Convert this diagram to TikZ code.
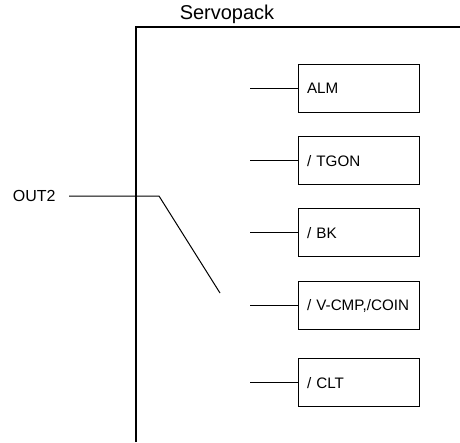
\documentclass[tikz,border=0pt]{standalone}
\usepackage{fontspec}
\setmainfont{Liberation Sans}
\usepackage{tikz}
\usetikzlibrary{positioning}

\begin{document}
\begin{tikzpicture}[
    x=1pt, y=-1pt,
    line width=1.2pt,
    sig/.style={draw, rectangle, anchor=north west, minimum width=121pt, minimum height=48pt,
                text width=104pt, inner xsep=8.5pt, align=left, font=\fontsize{15.2}{17}\selectfont},
    wire/.style={line width=1pt}
]
    \useasboundingbox (0,0) rectangle (460,442);

    % Servopack frame
    \coordinate (fbot) at (136,442);
    \coordinate (ftop) at (136,27);
    \coordinate (fright) at (460,27);
    \draw (fbot) -- (ftop) -- (fright);
    \node[font=\fontsize{20}{22}\selectfont] (title) at (227,14) {Servopack};

    % output signals
    \node[sig] (alm)  at (298,64)  {ALM};
    \node[sig] (tgon) at (298,136) {/ TGON};
    \node[sig] (bk)   at (298,208) {/ BK};
    \node[sig] (vcmp) at (298,281) {/ V-CMP,/COIN};
    \node[sig] (clt)  at (298,358) {/ CLT};

    \foreach \s in {alm,tgon,bk,vcmp,clt}
        \draw[wire] (\s.west) -- ++(-48,0) coordinate (\s-in);

    % selector
    \node[font=\fontsize{16}{18}\selectfont, anchor=west] (out) at (9,196) {OUT2};
    \coordinate (pivot) at (159,196);
    \coordinate (tip) at (220,293);
    \draw[wire] (69,196) coordinate (outl) -- (pivot) -- (tip);
\end{tikzpicture}
\end{document}
